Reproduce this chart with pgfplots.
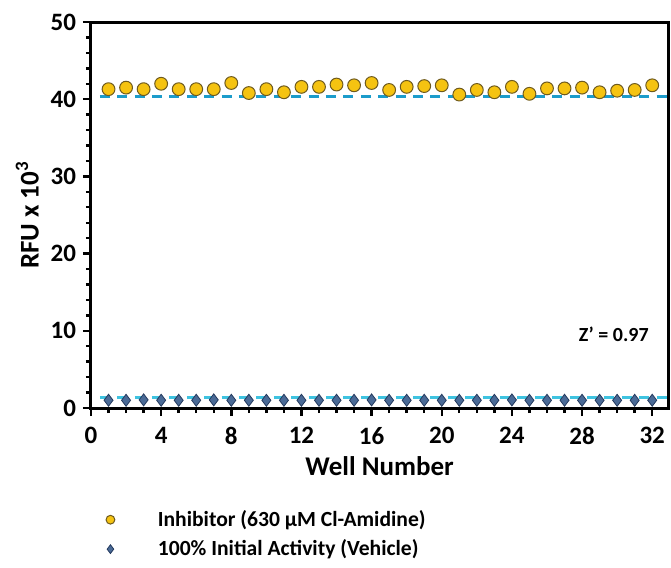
\documentclass[border=0pt]{standalone}
\usepackage{pgfplots}
\pgfplotsset{compat=1.18}
\usepackage{fontspec}
\setmainfont{Carlito}
\definecolor{inhib}{HTML}{F5C311}
\definecolor{inhibedge}{HTML}{6E5A1E}
\definecolor{vehic}{HTML}{4A6A96}
\definecolor{vehicedge}{HTML}{243A5E}
\definecolor{dashA}{HTML}{1C9CCB}
\definecolor{dashB}{HTML}{3FC3E0}
\begin{document}
\begin{tikzpicture}
\useasboundingbox (-45.5pt,-80pt) rectangle (290pt,204pt);
\begin{axis}[
  at={(0,0)}, anchor=south west,
  scale only axis, width=288.5pt, height=193pt,
  xmin=0, xmax=32.9, ymin=0, ymax=50,
  xtick={0,4,...,32}, ytick={0,10,...,50},
  minor x tick num=3, minor y tick num=4,
  xtick pos=bottom, ytick pos=left, tick align=outside,
  major tick length=4pt, minor tick length=2.5pt,
  every tick/.style={black, line width=1.2pt},
  axis line style={line width=1.5pt},
  tick label style={font=\fontsize{12.5}{14}\selectfont\bfseries},
  label style={font=\fontsize{13.5}{15}\selectfont\bfseries},
  /pgf/number format/assume math mode=true,
  xticklabel style={yshift=-2pt},
  xlabel={Well Number}, ylabel={RFU x 10\textsuperscript{3}},
  xlabel style={yshift=1pt}, ylabel style={yshift=-1pt},
  clip=false,
  legend style={at={(0.015,-0.243)}, anchor=north west, draw=none, fill=none,
    font=\fontsize{10.8}{12}\selectfont\bfseries, row sep=1.2pt,
    /tikz/every odd column/.append style={column sep=19.5pt}},
  legend cell align=left,
]
\addplot[dashed, dash pattern=on 5pt off 3.7pt, line width=1.5pt, color=dashA, forget plot]
  coordinates {(0.5,40.3) (32.9,40.3)};
\addplot[dashed, dash pattern=on 5pt off 3.7pt, line width=1.5pt, color=dashB, forget plot]
  coordinates {(0.5,1.4) (32.9,1.4)};
\addplot[only marks, mark=*, mark size=3.2pt, mark options={fill=inhib, draw=inhibedge, line width=0.5pt},
  legend image post style={mark size=2.2pt}]
  coordinates {
(1,41.3) (2,41.5) (3,41.3) (4,42.0) (5,41.3) (6,41.3) (7,41.3) (8,42.1)
(9,40.8) (10,41.3) (11,40.9) (12,41.6) (13,41.6) (14,41.9) (15,41.8) (16,42.1)
(17,41.2) (18,41.6) (19,41.7) (20,41.8) (21,40.6) (22,41.2) (23,40.9) (24,41.6)
(25,40.7) (26,41.4) (27,41.4) (28,41.5) (29,40.9) (30,41.1) (31,41.2) (32,41.8)
};
\addlegendentry{Inhibitor (630 µM Cl-Amidine)}
\addplot[only marks, mark=diamond*, mark size=3pt, mark options={fill=vehic, draw=vehicedge, line width=0.4pt},
  legend image post style={mark size=2.2pt}]
  coordinates {
(1,1.0) (2,1.0) (3,1.05) (4,1.0) (5,1.0) (6,1.0) (7,1.05) (8,1.0)
(9,1.0) (10,1.0) (11,1.0) (12,1.0) (13,1.0) (14,1.0) (15,1.0) (16,1.05)
(17,1.0) (18,1.0) (19,1.0) (20,1.0) (21,1.0) (22,1.0) (23,1.0) (24,1.05)
(25,1.0) (26,1.0) (27,1.0) (28,1.0) (29,1.0) (30,1.0) (31,1.0) (32,1.0)
};
\addlegendentry{100\% Initial Activity (Vehicle)}
\node[anchor=east, font=\fontsize{10}{12}\selectfont\bfseries] at (axis cs:32.2,9.5) {Z' = 0.97};
\end{axis}
\end{tikzpicture}
\end{document}
